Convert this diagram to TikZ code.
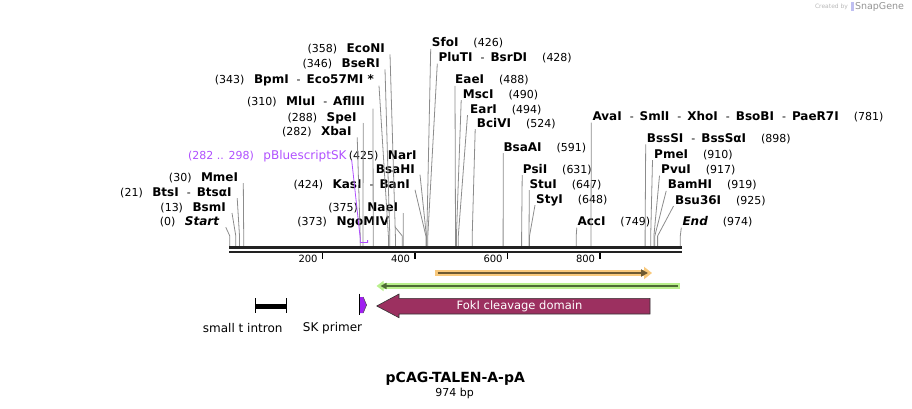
\documentclass[tikz,border=0pt]{standalone}
\usepackage{fontspec}
\setmainfont{DejaVu Sans}
\usetikzlibrary{arrows.meta}

\definecolor{leadgray}{HTML}{8C8C8C}
\definecolor{dnablack}{HTML}{222222}
\definecolor{primerpurple}{HTML}{A020F0}
\definecolor{sktext}{HTML}{B050FF}
\definecolor{fokired}{HTML}{9C3060}
\definecolor{bandorange}{HTML}{F9C97C}
\definecolor{bandgreen}{HTML}{B9F08C}
\definecolor{innerorange}{HTML}{6E5A32}
\definecolor{innergreen}{HTML}{4E6B35}

\newcommand\enz[1]{{\fontsize{12}{14}\selectfont\bfseries #1}}
\newcommand\bpnum[1]{{\fontsize{11}{13}\selectfont(#1)}}
\newcommand\enzsep{\hspace{8pt}{\fontsize{11}{13}\selectfont -}\hspace{6pt}}
\newcommand\gapL{\hspace{9.5pt}}
\newcommand\gapR{\hspace{15pt}}

\tikzset{
  lsite/.style={anchor=base east, inner sep=0pt},
  rsite/.style={anchor=base west, inner sep=0pt},
  leader/.style={draw=leadgray, line width=0.8pt},
  strand/.style={draw=dnablack, line cap=butt},
  ruler/.style={draw=black, line width=1.4pt},
  rulerlab/.style={anchor=base east, inner sep=0pt, font=\fontsize{10}{12}\selectfont},
  featlab/.style={inner sep=0pt, font=\fontsize{12}{14}\selectfont}
}

\begin{document}
\begin{tikzpicture}[x=1pt, y=-1pt]
		\useasboundingbox (0,0) rectangle (912,409);

		\coordinate (s0) at (229.8,246);
		\coordinate (s13) at (235.8,246);
		\coordinate (s21) at (239.5,246);
		\coordinate (s30) at (243.7,246);
		\coordinate (s282) at (360.2,246);
		\coordinate (s288) at (363.0,246);
		\coordinate (s298) at (367.6,246);
		\coordinate (s310) at (373.2,246);
		\coordinate (s343) at (388.4,246);
		\coordinate (s346) at (389.8,246);
		\coordinate (s358) at (395.4,246);
		\coordinate (s373) at (402.3,246);
		\coordinate (s375) at (403.2,246);
		\coordinate (s424) at (425.9,246);
		\coordinate (s425) at (426.4,246);
		\coordinate (s426) at (426.8,246);
		\coordinate (s428) at (427.8,246);
		\coordinate (s488) at (455.5,246);
		\coordinate (s490) at (456.4,246);
		\coordinate (s494) at (458.3,246);
		\coordinate (s524) at (472.2,246);
		\coordinate (s591) at (503.1,246);
		\coordinate (s631) at (521.6,246);
		\coordinate (s647) at (529.0,246);
		\coordinate (s648) at (529.5,246);
		\coordinate (s749) at (576.2,246);
		\coordinate (s781) at (591.0,246);
		\coordinate (s898) at (645.1,246);
		\coordinate (s910) at (650.7,246);
		\coordinate (s917) at (653.9,246);
		\coordinate (s919) at (654.8,246);
		\coordinate (s925) at (657.6,246);
		\coordinate (s974) at (680.3,246);

		\node[lsite] (econi) at (385,52.7) {\bpnum{358}\gapL\enz{EcoNI}};
		\node[lsite] (bseri) at (380,67.7) {\bpnum{346}\gapL\enz{BseRI}};
		\node[lsite] (bpmi) at (374,83.1) {\bpnum{343}\gapL\enz{BpmI}\enzsep\enz{Eco57MI *}};
		\node[lsite] (mlui) at (365,105.7) {\bpnum{310}\gapL\enz{MluI}\enzsep\enz{AflIII}};
		\node[lsite] (spei) at (356.7,121.4) {\bpnum{288}\gapL\enz{SpeI}};
		\node[lsite] (xbai) at (351.7,135.7) {\bpnum{282}\gapL\enz{XbaI}};
		\node[lsite, text=sktext] (pbs) at (346.7,159.4) {\bpnum{282 .. 298}\gapL{\fontsize{12}{14}\selectfont pBluescriptSK}};
		\node[lsite] (nari) at (416.7,159.4) {\bpnum{425}\gapL\enz{NarI}};
		\node[lsite] (bsahi) at (415,173.1) {\enz{BsaHI}};
		\node[lsite] (kasi) at (410,188.2) {\bpnum{424}\gapL\enz{KasI}\enzsep\enz{BanI}};
		\node[lsite] (naei) at (398.3,211.4) {\bpnum{375}\gapL\enz{NaeI}};
		\node[lsite] (ngomiv) at (389.3,225.7) {\bpnum{373}\gapL\enz{NgoMIV}};
		\node[lsite] (mmei) at (238.3,181.6) {\bpnum{30}\gapL\enz{MmeI}};
		\node[lsite] (btsi) at (231.7,196.6) {\bpnum{21}\gapL\enz{BtsI}\enzsep\enz{BtsαI}};
		\node[lsite] (bsmi) at (226,211.4) {\bpnum{13}\gapL\enz{BsmI}};
		\node[lsite] (start) at (219.3,225.7) {\bpnum{0}\gapL\enz{\itshape Start}};

		\node[rsite] (sfoi) at (431.7,46.9) {\enz{SfoI}\gapR\bpnum{426}};
		\node[rsite] (pluti) at (438.3,61.6) {\enz{PluTI}\enzsep\enz{BsrDI}\gapR\bpnum{428}};
		\node[rsite] (eaei) at (455,83.9) {\enz{EaeI}\gapR\bpnum{488}};
		\node[rsite] (msci) at (462.7,98.2) {\enz{MscI}\gapR\bpnum{490}};
		\node[rsite] (eari) at (470,113.1) {\enz{EarI}\gapR\bpnum{494}};
		\node[rsite] (bcivi) at (476.7,127.2) {\enz{BciVI}\gapR\bpnum{524}};
		\node[rsite] (bsaai) at (503.3,151.1) {\enz{BsaAI}\gapR\bpnum{591}};
		\node[rsite] (psii) at (522.7,173.1) {\enz{PsiI}\gapR\bpnum{631}};
		\node[rsite] (stui) at (529.3,188.2) {\enz{StuI}\gapR\bpnum{647}};
		\node[rsite] (styi) at (536,203.1) {\enz{StyI}\gapR\bpnum{648}};
		\node[rsite] (acci) at (577.3,225.7) {\enz{AccI}\gapR\bpnum{749}};
		\node[rsite] (avai) at (592.3,120.6) {\enz{AvaI}\enzsep\enz{SmlI}\enzsep\enz{XhoI}\enzsep\enz{BsoBI}\enzsep\enz{PaeR7I}\gapR\bpnum{781}};
		\node[rsite] (bsssi) at (646.7,142.4) {\enz{BssSI}\enzsep\enz{BssSαI}\gapR\bpnum{898}};
		\node[rsite] (pmei) at (654,158.2) {\enz{PmeI}\gapR\bpnum{910}};
		\node[rsite] (pvui) at (661,173.6) {\enz{PvuI}\gapR\bpnum{917}};
		\node[rsite] (bamhi) at (667.7,188.9) {\enz{BamHI}\gapR\bpnum{919}};
		\node[rsite] (bsu) at (675,204.1) {\enz{Bsu36I}\gapR\bpnum{925}};
		\node[rsite] (endl) at (682.3,225.7) {\enz{\itshape End}\gapR\bpnum{974}};

		\draw[leader] ([xshift=5pt,yshift=-1.6pt]econi.base east) -- ([yshift=10pt]s358) -- (s358);
		\draw[leader] ([xshift=5pt,yshift=-1.6pt]bseri.base east) -- ([yshift=10pt]s346) -- (s346);
		\draw[leader] ([xshift=5pt,yshift=-2.5pt]bpmi.base east) -- ([yshift=10pt]s343) -- (s343);
		\draw[leader] ([xshift=8pt,yshift=-3pt]mlui.base east) -- ([yshift=10pt]s310) -- (s310);
		\draw[leader] ([xshift=6.5pt,yshift=-1.6pt]spei.base east) -- ([yshift=10pt]s288) -- (s288);
		\draw[leader] ([xshift=5.5pt,yshift=-1.6pt]xbai.base east) -- ([yshift=10pt]s282) -- (s282);
		\draw[leader] ([xshift=5pt,yshift=-1.6pt]bsahi.base east) -- ([yshift=10pt]s425) -- (s425);
		\draw[leader] ([xshift=5pt,yshift=-1.6pt]kasi.base east) -- ([yshift=10pt]s424) -- (s424);
		\draw[leader] ([xshift=5pt,yshift=-1.6pt]naei.base east) -- ([yshift=10pt]s375) -- (s375);
		\draw[leader] ([xshift=6pt,yshift=-1.6pt]ngomiv.base east) -- ([yshift=10pt]s373) -- (s373);
		\draw[leader] ([xshift=5pt,yshift=-1.6pt]mmei.base east) -- ([yshift=10pt]s30) -- (s30);
		\draw[leader] ([xshift=5.5pt,yshift=-1.6pt]btsi.base east) -- ([yshift=10pt]s21) -- (s21);
		\draw[leader] ([xshift=6pt,yshift=-1.6pt]bsmi.base east) -- ([yshift=10pt]s13) -- (s13);
		\draw[leader] ([xshift=6.5pt,yshift=-1.6pt]start.base east) -- ([yshift=10pt]s0) -- (s0);
		\draw[draw=sktext, line width=0.8pt] ([xshift=5pt,yshift=-0.8pt]pbs.base east) -- ([yshift=8pt]s282) -- ([yshift=3.5pt]s282) -- ([yshift=3.5pt]s298) -- ([yshift=6pt]s298);

		\draw[leader] ([xshift=-1pt,yshift=-2pt]sfoi.base west) -- ([yshift=10pt]s426) -- (s426);
		\draw[leader] ([xshift=-1pt,yshift=-2pt]pluti.base west) -- ([yshift=10pt]s428) -- (s428);
		\draw[leader] ([xshift=0pt,yshift=-2pt]eaei.base west) -- ([yshift=10pt]s488) -- (s488);
		\draw[leader] ([xshift=-1.5pt,yshift=-2pt]msci.base west) -- ([yshift=10pt]s490) -- (s490);
		\draw[leader] ([xshift=-2.5pt,yshift=-2pt]eari.base west) -- ([yshift=10pt]s494) -- (s494);
		\draw[leader] ([xshift=-1.5pt,yshift=-2pt]bcivi.base west) -- ([yshift=10pt]s524) -- (s524);
		\draw[leader] ([xshift=0pt,yshift=-2pt]bsaai.base west) -- ([yshift=10pt]s591) -- (s591);
		\draw[leader] ([xshift=-0.5pt,yshift=-2pt]psii.base west) -- ([yshift=10pt]s631) -- (s631);
		\draw[leader] ([xshift=0pt,yshift=-2pt]stui.base west) -- ([yshift=10pt]s647) -- (s647);
		\draw[leader] ([xshift=-1pt,yshift=-2pt]styi.base west) -- ([yshift=10pt]s648) -- (s648);
		\draw[leader] ([xshift=-0.5pt,yshift=-2pt]acci.base west) -- ([yshift=10pt]s749) -- (s749);
		\draw[leader] ([xshift=-1pt,yshift=-2pt]avai.base west) -- ([yshift=10pt]s781) -- (s781);
		\draw[leader] ([xshift=-1pt,yshift=-2pt]bsssi.base west) -- ([yshift=10pt]s898) -- (s898);
		\draw[leader] ([xshift=-1.5pt,yshift=-2pt]pmei.base west) -- ([yshift=10pt]s910) -- (s910);
		\draw[leader] ([xshift=-1.5pt,yshift=-2pt]pvui.base west) -- ([yshift=10pt]s917) -- (s917);
		\draw[leader] ([xshift=-1.5pt,yshift=-2pt]bamhi.base west) -- ([yshift=10pt]s919) -- (s919);
		\draw[leader] ([xshift=-1.5pt,yshift=-2pt]bsu.base west) -- ([yshift=10pt]s925) -- (s925);
		\draw[leader] ([xshift=-1pt,yshift=-2pt]endl.base west) -- ([yshift=10pt]s974) -- (s974);

		\coordinate (top0) at (229,247.6);
		\coordinate (top1) at (682,247.6);
		\coordinate (bot0) at (229,251.6);
		\coordinate (bot1) at (682,251.6);
		\draw[strand, line width=2.6pt] (top0) -- (top1);
		\draw[strand, line width=2.2pt] (bot0) -- (bot1);

		\coordinate (t200) at (322.3,252.5);
		\coordinate (t400) at (414.8,252.5);
		\coordinate (t600) at (507.3,252.5);
		\coordinate (t800) at (599.8,252.5);
		\draw[ruler] (t200) -- ++(0,6.8);
		\draw[ruler] (t400) -- ++(0,6.8);
		\draw[ruler] (t600) -- ++(0,6.8);
		\draw[ruler] (t800) -- ++(0,6.8);
		\node[rulerlab] (l200) at (317.8,262.8) {200};
		\node[rulerlab] (l400) at (410.3,262.8) {400};
		\node[rulerlab] (l600) at (502.8,262.8) {600};
		\node[rulerlab] (l800) at (595.3,262.8) {800};

		\draw[bandorange, line width=6pt, -{Triangle[length=8pt,width=12pt]}] (435,273) -- (652,273);
		\draw[innerorange, line width=2pt, -{Triangle[length=7pt,width=7pt]}] (437.5,273) -- (648,273);
		\draw[bandgreen, line width=5.5pt, -{Triangle[length=7pt,width=10pt]}] (680,286) -- (376.5,286);
		\draw[innergreen, line width=2pt, -{Triangle[length=6pt,width=6pt]}] (677.7,286) -- (380.5,286);

		\draw[line width=5pt] (255.7,306) -- (286.3,306);
		\draw[line width=0.9pt] (255.7,298.3) -- (255.7,313.3);
		\draw[line width=0.9pt] (286.3,298.3) -- (286.3,313.3);
		\node[featlab] (intron) at (242.7,328) {small t intron};

		\fill[primerpurple] (359.6,297) -- (363.2,297) -- (366.6,305) -- (363.2,313) -- (359.6,313) -- cycle;
		\draw[line width=0.8pt] (359.3,293.5) -- (359.3,315);
		\draw[line width=0.5pt, black!70] (363.2,297) -- (366.6,305) -- (363.2,313);
		\node[featlab] (skprimer) at (332.5,328) {SK primer};

		\draw[fill=fokired, draw=black!80, line width=0.6pt] (650,298.3) -- (399,298.3) -- (399,294) -- (376.7,306) -- (399,317.7) -- (399,314) -- (650,314) -- cycle;
		\node[inner sep=0pt, text=white, font=\fontsize{11.5}{13}\selectfont] (foki) at (519.5,306) {FokI cleavage domain};

		\node[inner sep=0pt, font=\fontsize{14}{16}\selectfont\bfseries] (title) at (455.3,378.3) {pCAG-TALEN-A-pA};
		\node[inner sep=0pt, font=\fontsize{11}{13}\selectfont] (size) at (454.7,393.3) {974 bp};

		\node[inner sep=0pt, text=black!28, font=\fontsize{6}{7}\selectfont] (created) at (831.5,7) {Created by};
		\fill[black!22!blue!25] (850.5,2.5) rectangle (853.5,11.5);
		\node[inner sep=0pt, text=black!42, font=\fontsize{9.5}{11}\selectfont] (snapgene) at (879.5,7) {SnapGene};
	\end{tikzpicture}
\end{document}
